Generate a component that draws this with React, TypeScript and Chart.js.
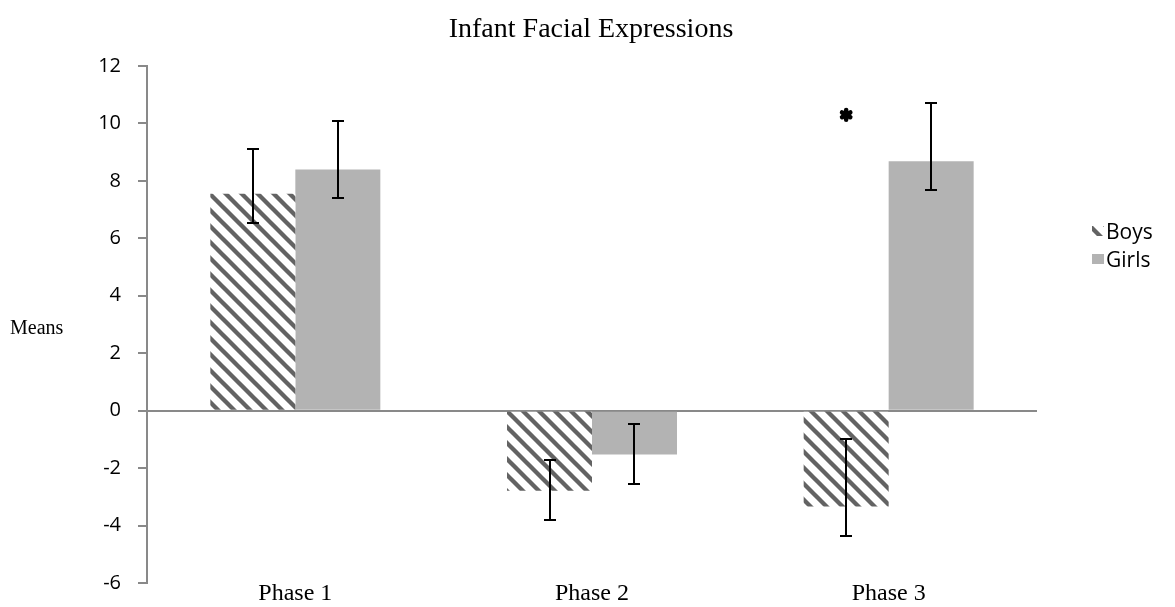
import React, { useEffect, useRef } from 'react';
import { Chart, registerables } from 'chart.js';

Chart.register(...registerables);

// ---- data ----
const categories = ['Phase 1', 'Phase 2', 'Phase 3'];
const seriesNames = ['Boys', 'Girls'];
const boysMeans = [7.55, -2.79, -3.34];
const girlsMeans = [8.4, -1.53, 8.68];
const boysErrPlus = [1.55, 1.08, 2.36];
const boysErrMinus = [1.0, 1.01, 1.01];
const girlsErrPlus = [1.7, 1.08, 2.04];
const girlsErrMinus = [0.98, 1.01, 1.0];
const yMin = -6;
const yMax = 12;
const yStep = 2;
const sigMarkIndex = 2;
const sigMarkValue = 10.3;
const chartTitle = 'Infant Facial Expressions';
const yAxisTitle = 'Means';

const SERIF = '"Liberation Serif", "Times New Roman", serif';
const SANS = '"Open Sans", "Liberation Sans", sans-serif';
const AXIS_GRAY = '#898989';
const GIRLS_FILL = '#b3b3b3';

function makeHatch(): CanvasPattern | string {
  const t = document.createElement('canvas');
  t.width = 16;
  t.height = 16;
  const c = t.getContext('2d');
  if (!c) return '#777';
  c.fillStyle = '#ffffff';
  c.fillRect(0, 0, 16, 16);
  c.strokeStyle = '#636363';
  c.lineWidth = 4.3;
  c.beginPath();
  for (const o of [-16, 0, 16]) {
    c.moveTo(o - 2, -2);
    c.lineTo(o + 18, 18);
  }
  c.stroke();
  const p = c.createPattern(t, 'repeat');
  return p || '#777';
}

export default function App() {
  const ref = useRef<HTMLCanvasElement | null>(null);

  useEffect(() => {
    const canvas = ref.current;
    if (!canvas) return;
    const hatch = makeHatch();

    const decor = {
      id: 'decor',
      afterDatasetsDraw(chart: any) {
        const ctx = chart.ctx as CanvasRenderingContext2D;
        const ys = chart.scales.y;
        ctx.save();
        ctx.strokeStyle = '#000';
        ctx.lineWidth = 2;
        const sets: [number[], number[], number[]][] = [
          [boysMeans, boysErrPlus, boysErrMinus],
          [girlsMeans, girlsErrPlus, girlsErrMinus],
        ];
        sets.forEach(([m, p, n], di) => {
          const meta = chart.getDatasetMeta(di);
          meta.data.forEach((el: any, i: number) => {
            const x = Math.round(el.x);
            const yt = Math.round(ys.getPixelForValue(m[i] + p[i]));
            const yb = Math.round(ys.getPixelForValue(m[i] - n[i]));
            ctx.beginPath();
            ctx.moveTo(x, yt);
            ctx.lineTo(x, yb);
            ctx.moveTo(x - 6, yt);
            ctx.lineTo(x + 6, yt);
            ctx.moveTo(x - 6, yb);
            ctx.lineTo(x + 6, yb);
            ctx.stroke();
          });
        });
        // significance mark
        const bm = chart.getDatasetMeta(0).data[sigMarkIndex];
        if (bm) {
          const cx = bm.x;
          const cy = ys.getPixelForValue(sigMarkValue);
          ctx.lineWidth = 4.5;
          ctx.lineCap = 'round';
          for (let k = 0; k < 3; k++) {
            const a = Math.PI / 2 + (k * Math.PI) / 3;
            const r = 4.8;
            ctx.beginPath();
            ctx.moveTo(cx - r * Math.cos(a), cy - r * Math.sin(a));
            ctx.lineTo(cx + r * Math.cos(a), cy + r * Math.sin(a));
            ctx.stroke();
          }
        }
        ctx.restore();
      },
      afterDraw(chart: any) {
        const ctx = chart.ctx as CanvasRenderingContext2D;
        ctx.save();
        ctx.fillStyle = '#000';
        ctx.textBaseline = 'alphabetic';
        // title
        ctx.font = `28px ${SERIF}`;
        ctx.textAlign = 'center';
        ctx.fillText(chartTitle, 591, 37);
        // y axis title (horizontal)
        ctx.font = `20px ${SERIF}`;
        ctx.textAlign = 'left';
        ctx.fillText(yAxisTitle, 10, 334);
        // legend
        ctx.font = `21px ${SANS}`;
        ctx.fillStyle = hatch as any;
        ctx.fillRect(1092, 226, 12, 10);
        ctx.fillStyle = GIRLS_FILL;
        ctx.fillRect(1092, 254, 12, 10);
        ctx.fillStyle = '#000';
        ctx.fillText(seriesNames[0], 1106, 238.5);
        ctx.fillText(seriesNames[1], 1106, 266.5);
        ctx.restore();
      },
    };

    const chart = new Chart(canvas, {
      type: 'bar',
      data: {
        labels: categories,
        datasets: [
          {
            label: seriesNames[0],
            data: boysMeans,
            backgroundColor: hatch as any,
            borderWidth: 0,
            categoryPercentage: 0.573,
            barPercentage: 1,
          },
          {
            label: seriesNames[1],
            data: girlsMeans,
            backgroundColor: GIRLS_FILL,
            borderWidth: 0,
            categoryPercentage: 0.573,
            barPercentage: 1,
          },
        ],
      },
      options: {
        responsive: false,
        animation: false,
        devicePixelRatio: 1,
        layout: { padding: { left: 0, top: 66, right: 138, bottom: 0 } },
        plugins: {
          legend: { display: false },
          title: { display: false },
          tooltip: { enabled: false },
        },
        scales: {
          x: {
            grid: { display: false },
            border: { display: false },
            ticks: {
              font: { family: SERIF, size: 24, lineHeight: 1.2 },
              color: '#000',
              padding: -12,
              labelOffset: 0,
              maxRotation: 0,
            },
            afterFit(scale: any) {
              scale.height = 24;
              scale.paddingLeft = 0;
              scale.paddingRight = 0;
            },
          },
          y: {
            min: yMin,
            max: yMax,
            border: { display: true, color: AXIS_GRAY, width: 2 },
            grid: {
              color: (c: any) => (c.tick && c.tick.value === 0 ? AXIS_GRAY : 'rgba(0,0,0,0)'),
              lineWidth: 2,
              tickColor: AXIS_GRAY,
              tickWidth: 2,
              tickLength: 9,
              drawTicks: true,
            },
            ticks: {
              stepSize: yStep,
              font: { family: SANS, size: 20 },
              color: '#000',
              padding: 17,
            },
            afterFit(scale: any) {
              scale.width = 147;
              scale.paddingTop = 0;
              scale.paddingBottom = 0;
            },
          },
        },
      },
      plugins: [decor],
    });

    return () => chart.destroy();
  }, []);

  return (
    <div style={{ position: 'fixed', left: 0, top: 0, width: 1175, height: 607, background: '#fff' }}>
      <canvas ref={ref} width={1175} height={607} style={{ width: 1175, height: 607, display: 'block' }} />
    </div>
  );
}
